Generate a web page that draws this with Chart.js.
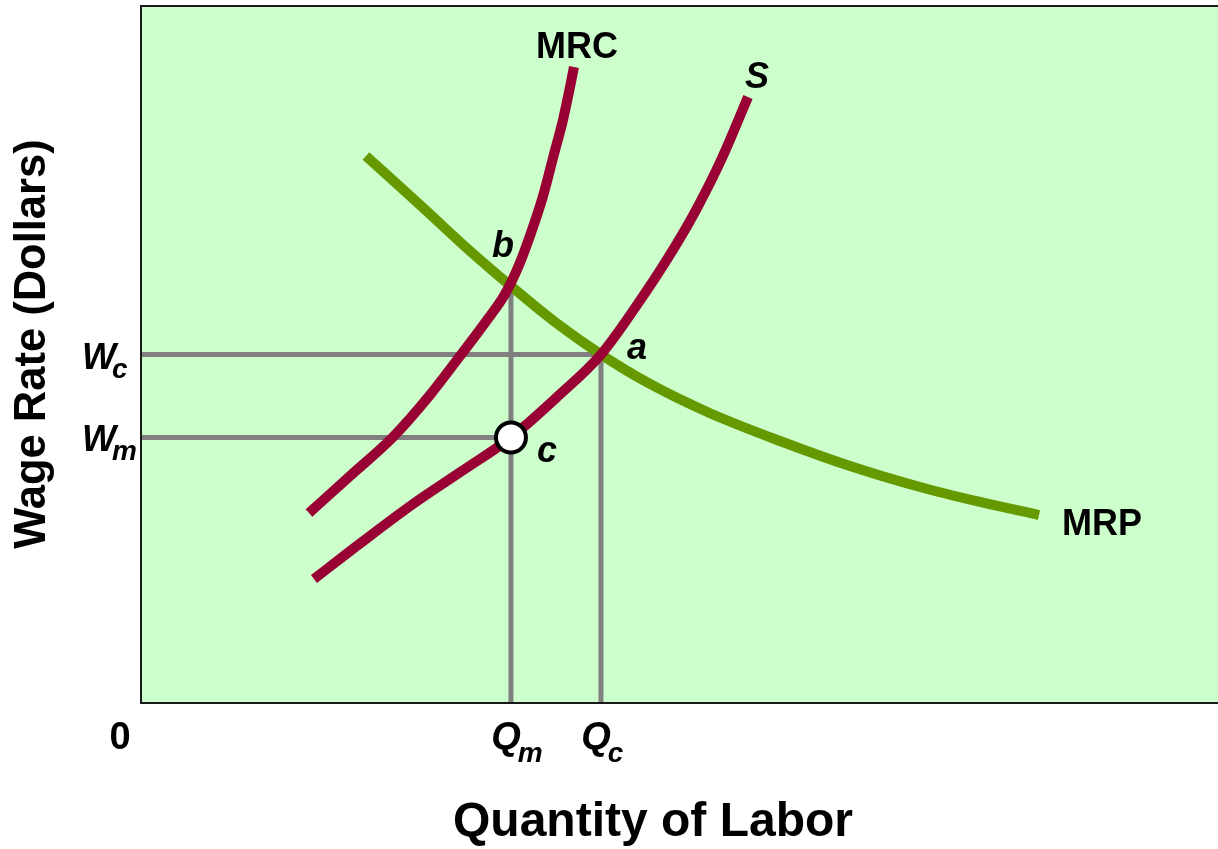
<!DOCTYPE html>
<html><head><meta charset="utf-8">
<script src="https://cdn.jsdelivr.net/npm/chart.js@4.4.0/dist/chart.umd.min.js"></script>
<style>html,body{margin:0;padding:0;background:#fff;overflow:hidden}</style>
</head><body>
<canvas id="c" width="1218" height="849"></canvas>
<script>
// ---- data (units: 0..100 on both axes) ----
const mrcX = [15.60, 19.41, 23.40, 26.83, 29.62, 32.13, 33.80, 35.10, 36.21, 37.33, 38.35, 39.18, 39.74, 40.20];
const mrcY = [27.26, 32.57, 38.16, 44.19, 49.78, 54.95, 58.68, 62.84, 67.43, 72.74, 78.77, 83.64, 87.66, 91.25];
const sX   = [16.06, 20.52, 25.26, 29.81, 34.35, 38.63, 42.71, 46.05, 48.93, 51.53, 53.95, 56.36];
const sY   = [17.79, 23.10, 28.55, 33.29, 38.10, 43.90, 50.00, 57.10, 63.85, 70.73, 78.19, 86.94];
const mrpX = [20.89, 25.91, 30.55, 34.35, 38.44, 42.71, 47.26, 52.79, 59.33, 65.83, 72.33, 77.90, 83.38];
const mrpY = [78.48, 71.45, 64.85, 59.80, 54.66, 50.00, 45.77, 41.61, 37.59, 34.00, 30.99, 28.84, 26.97];
const Qm = 34.35, Qc = 42.71, Wm = 38.10, Wc = 50.00, bY = 59.80;
const xTickValues = [0, Qm, Qc];
const xTickLabels = [['0', ''], ['Q', 'm'], ['Q', 'c']];
const yTickValues = [Wc, Wm];
const yTickLabels = [['W', 'c'], ['W', 'm']];
const xTitle = 'Quantity of Labor';
const yTitle = 'Wage Rate (Dollars)';

const pts = (xs, ys) => xs.map((x, i) => ({x, y: ys[i]}));
const CRIMSON = '#990033', GREEN = '#669900', GRAY = '#808080';
const FONT = '"Liberation Sans", Arial, sans-serif';

const curve = (label, data, color) => ({
  label, data, showLine: true, borderColor: color, backgroundColor: color,
  borderWidth: 10, pointRadius: 0, pointHoverRadius: 0,
  cubicInterpolationMode: 'monotone', fill: false
});
const guide = (label, data) => ({
  label, data, showLine: true, borderColor: GRAY, borderWidth: 5,
  pointRadius: 0, pointHoverRadius: 0, fill: false, tension: 0
});

const datasets = [
  {label: 'c', data: [{x: Qm, y: Wm}], showLine: false, pointRadius: 15,
   pointBackgroundColor: '#ffffff', pointBorderColor: '#000000', pointBorderWidth: 4},
  curve('S', pts(sX, sY), CRIMSON),
  curve('MRC', pts(mrcX, mrcY), CRIMSON),
  curve('MRP', pts(mrpX, mrpY), GREEN),
  guide('Wc', [{x: 0, y: Wc}, {x: Qc, y: Wc}]),
  guide('Qc', [{x: Qc, y: 0}, {x: Qc, y: Wc}]),
  guide('Wm', [{x: 0, y: Wm}, {x: Qm, y: Wm}]),
  guide('Qm', [{x: Qm, y: 0}, {x: Qm, y: bY}])
];

function text(ctx, str, x, y, size, italic, align) {
  ctx.font = (italic ? 'italic ' : '') + 'bold ' + size + 'px ' + FONT;
  ctx.textAlign = align || 'center';
  ctx.textBaseline = 'alphabetic';
  ctx.fillStyle = '#000';
  ctx.fillText(str, x, y);
}

const decor = {
  id: 'decor',
  beforeDraw(chart) {
    const {ctx, chartArea: a} = chart;
    ctx.save();
    ctx.fillStyle = '#CCFFCC';
    ctx.fillRect(a.left, a.top, a.right - a.left, a.bottom - a.top);
    ctx.restore();
  },
  afterDraw(chart) {
    const {ctx, chartArea: a} = chart;
    const xs = chart.scales.x, ys = chart.scales.y;
    const px = v => xs.getPixelForValue(v), py = v => ys.getPixelForValue(v);
    ctx.save();
    // frame: left, bottom, top
    ctx.strokeStyle = '#1a1a1a'; ctx.lineWidth = 2;
    ctx.beginPath();
    ctx.moveTo(a.right + 2, a.top); ctx.lineTo(a.left, a.top);
    ctx.lineTo(a.left, a.bottom); ctx.lineTo(a.right + 2, a.bottom);
    ctx.stroke();

    // curve labels
    text(ctx, 'MRC', px(mrcX[mrcX.length - 1]) + 3, py(mrcY[mrcY.length - 1]) - 9, 36, false);
    text(ctx, 'S', px(sX[sX.length - 1]) + 9, py(sY[sY.length - 1]) - 9, 36, true);
    text(ctx, 'MRP', px(mrpX[mrpX.length - 1]) + 23, py(mrpY[mrpY.length - 1]) + 20, 36, false, 'left');
    text(ctx, 'a', px(Qc) + 36, py(Wc) + 4, 36, true);
    text(ctx, 'b', px(Qm) - 8, py(bY) - 29, 36, true);
    text(ctx, 'c', px(Qm) + 36, py(Wm) + 25, 36, true);

    // x tick labels
    xTickValues.forEach((v, i) => {
      const [main, sub] = xTickLabels[i];
      const x = px(v);
      if (!sub) { text(ctx, main, x - 21, 749, 38, false); return; }
      ctx.font = 'italic bold 38px ' + FONT;
      const w = ctx.measureText(main).width;
      text(ctx, main, x - 5, 749, 38, true);
      text(ctx, sub, x - 5 + w / 2 - 3, 762, 28, true, 'left');
    });
    // y tick labels
    yTickValues.forEach((v, i) => {
      const [main, sub] = yTickLabels[i];
      const y = py(v);
      ctx.font = 'italic bold 36px ' + FONT;
      const w = ctx.measureText(main).width;
      text(ctx, main, 82, y + 14, 36, true, 'left');
      text(ctx, sub, 82 + w - 4, y + 23, 28, true, 'left');
    });

    // axis titles
    ctx.font = 'bold 48px ' + FONT;
    ctx.textAlign = 'center'; ctx.textBaseline = 'middle'; ctx.fillStyle = '#000';
    ctx.fillText(xTitle, 653, 823);
    ctx.translate(33, 344);
    ctx.rotate(-Math.PI / 2);
    ctx.font = 'bold 43.5px ' + FONT;
    ctx.fillText(yTitle, 0, 0);
    ctx.restore();
  }
};

new Chart(document.getElementById('c'), {
  type: 'scatter',
  data: {datasets},
  options: {
    responsive: false, animation: false, devicePixelRatio: 1,
    layout: {autoPadding: false, padding: {left: 141, top: 6, right: 0, bottom: 146}},
    plugins: {legend: {display: false}, tooltip: {enabled: false}},
    scales: {
      x: {type: 'linear', display: false, min: 0, max: 100},
      y: {type: 'linear', display: false, min: 0, max: 100}
    }
  },
  plugins: [decor]
});
</script>
</body></html>
